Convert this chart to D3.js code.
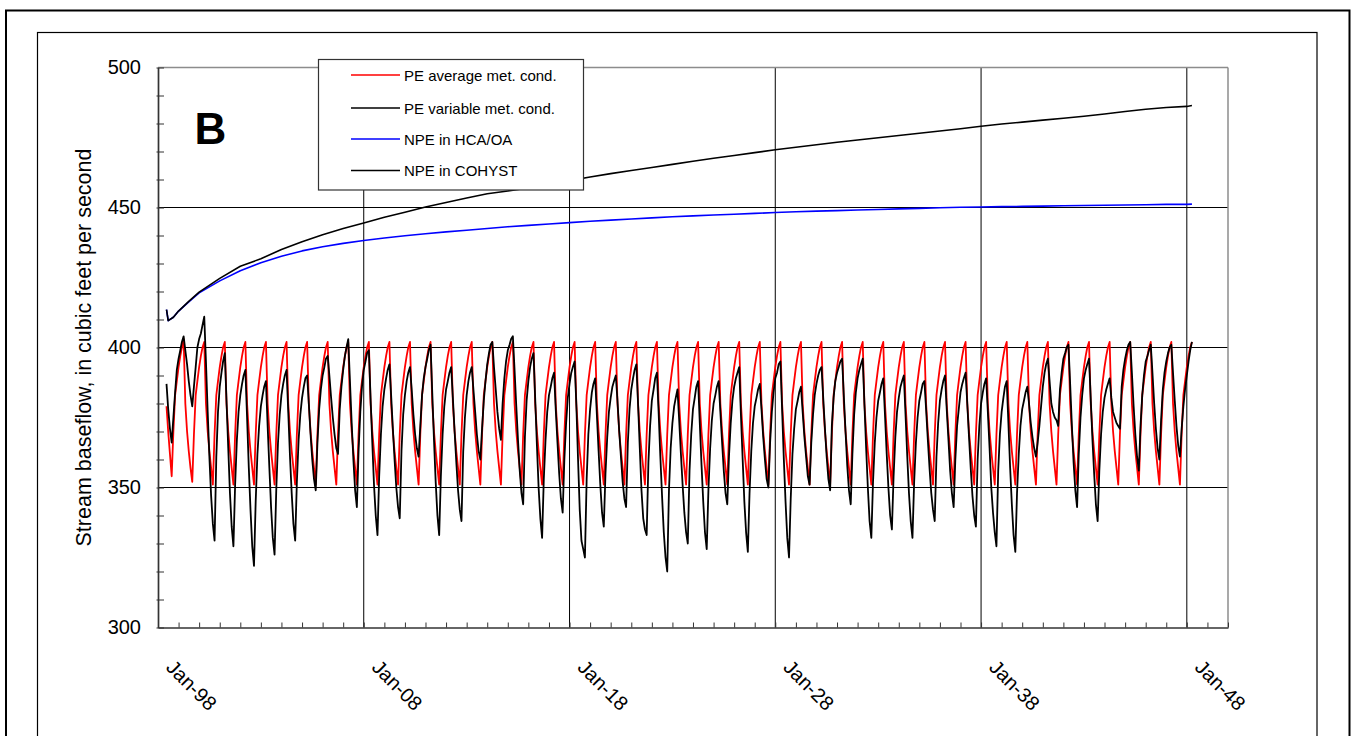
<!DOCTYPE html>
<html><head><meta charset="utf-8">
<script src="https://cdn.jsdelivr.net/npm/d3@7"></script>
<style>
body{margin:0;background:#fff;}
svg{display:block;}
text{font-family:"Liberation Sans",Arial,Helvetica,sans-serif;fill:#000;}
</style>
</head><body>
<svg id="chart" width="1352" height="736"></svg>
<script>
// ---------------- DATA ----------------
const seriesNames = ["PE average met. cond.", "PE variable met. cond.", "NPE in HCA/OA", "NPE in COHYST"];
const seriesColors = ["#ff0000", "#000000", "#0000ff", "#000000"];
const yTickValues = [300, 350, 400, 450, 500];
const yTickLabels = ["300", "350", "400", "450", "500"];
const xTickYears = [1998, 2008, 2018, 2028, 2038, 2048];
const xTickLabels = ["Jan-98", "Jan-08", "Jan-18", "Jan-28", "Jan-38", "Jan-48"];

// monthly rows (Jan..Dec) for each year 1998..2048
const years = [1998,1999,2000,2001,2002,2003,2004,2005,2006,2007,2008,2009,2010,2011,2012,2013,2014,2015,2016,2017,2018,2019,2020,2021,2022,2023,2024,2025,2026,2027,2028,2029,2030,2031,2032,2033,2034,2035,2036,2037,2038,2039,2040,2041,2042,2043,2044,2045,2046,2047,2048];

const peAverage = [
[null,null,null,null,null,379,370,362,354,370,383,388],
[393,397,400,403,380,370,363,357,352,369,383,388],
[393,397,400,402,380,370,363,357,351,369,383,388],
[393,397,400,402,380,370,363,357,351,369,383,388],
[393,397,400,402,380,370,363,357,351,369,383,388],
[393,397,400,402,380,370,363,357,351,369,383,388],
[393,397,400,402,380,370,363,357,351,369,383,388],
[393,397,400,402,380,370,363,357,351,369,383,388],
[393,397,400,402,380,370,363,357,351,369,383,388],
[393,397,400,402,380,370,363,357,351,369,383,388],
[393,397,400,402,380,370,363,357,351,369,383,388],
[393,397,400,402,380,370,363,357,351,369,383,388],
[393,397,400,402,380,370,363,357,351,369,383,388],
[393,397,400,402,380,370,363,357,351,369,383,388],
[393,397,400,402,380,370,363,357,351,369,383,388],
[393,397,400,402,380,370,363,357,351,369,383,388],
[393,397,400,402,380,370,363,357,351,369,383,388],
[393,397,400,402,380,370,363,357,351,369,383,388],
[393,397,400,402,380,370,363,357,351,369,383,388],
[393,397,400,402,380,370,363,357,351,369,383,388],
[393,397,400,402,380,370,363,357,351,369,383,388],
[393,397,400,402,380,370,363,357,351,369,383,388],
[393,397,400,402,380,370,363,357,351,369,383,388],
[393,397,400,402,380,370,363,357,351,369,383,388],
[393,397,400,402,380,370,363,357,351,369,383,388],
[393,397,400,402,380,370,363,357,351,369,383,388],
[393,397,400,402,380,370,363,357,351,369,383,388],
[393,397,400,402,380,370,363,357,351,369,383,388],
[393,397,400,402,380,370,363,357,351,369,383,388],
[393,397,400,402,380,370,363,357,351,369,383,388],
[393,397,400,402,380,370,363,357,351,369,383,388],
[393,397,400,402,380,370,363,357,351,369,383,388],
[393,397,400,402,380,370,363,357,351,369,383,388],
[393,397,400,402,380,370,363,357,351,369,383,388],
[393,397,400,402,380,370,363,357,351,369,383,388],
[393,397,400,402,380,370,363,357,351,369,383,388],
[393,397,400,402,380,370,363,357,351,369,383,388],
[393,397,400,402,380,370,363,357,351,369,383,388],
[393,397,400,402,380,370,363,357,351,369,383,388],
[393,397,400,402,380,370,363,357,351,369,383,388],
[393,397,400,402,380,370,363,357,351,369,383,388],
[393,397,400,402,380,370,363,357,351,369,383,388],
[393,397,400,402,380,370,363,357,351,369,383,388],
[393,397,400,402,380,370,363,357,351,369,383,388],
[393,397,400,402,380,370,363,357,351,369,383,388],
[393,397,400,402,380,370,363,357,351,369,383,388],
[393,397,400,402,380,370,363,357,351,369,383,388],
[393,397,400,402,380,370,363,357,351,369,383,388],
[393,397,400,402,380,370,363,357,351,369,383,388],
[393,397,400,402,380,370,363,357,351,369,383,388],
[393,397,400,402,null,null,null,null,null,null,null,null]
];

const peVariable = [
[null,null,null,null,null,387,378,371,366,375,384,392],
[396,399,402,404,399,394,388,383,379,386,393,400],
[403,405,408,411,395,377,361,347,337,331,361,377],
[386,391,395,398,381,364,348,336,329,351,367,377],
[383,387,390,392,375,357,342,329,322,345,362,372],
[379,383,386,388,372,357,343,332,326,349,366,376],
[383,387,390,392,377,361,348,337,331,352,367,376],
[382,386,389,390,380,369,360,353,349,366,378,385],
[390,393,396,397,390,382,375,369,364,362,378,386],
[392,397,400,403,388,373,360,349,343,363,377,386],
[392,395,398,399,382,366,351,340,333,354,369,379],
[385,389,392,394,383,371,360,350,343,339,363,376],
[383,388,391,393,385,376,369,364,361,372,383,389],
[393,396,399,401,384,367,352,340,333,354,369,379],
[385,388,391,393,382,370,359,349,342,338,363,375],
[383,388,391,393,385,377,369,363,360,371,381,388],
[394,398,401,402,393,385,377,371,367,380,389,395],
[399,401,403,404,392,379,367,356,348,344,368,381],
[388,393,396,398,382,365,350,339,332,353,367,377],
[383,386,389,391,378,366,355,346,341,360,373,382],
[387,391,393,395,380,360,342,331,328,325,353,369],
[378,384,387,389,376,363,351,341,336,355,368,377],
[382,386,388,390,381,370,361,352,346,343,366,378],
[385,389,392,394,380,364,349,339,335,333,359,372],
[381,385,389,391,377,361,347,334,325,320,349,364],
[373,379,382,385,374,362,351,341,334,330,356,369],
[378,382,386,388,373,358,345,334,328,349,364,374],
[380,383,386,388,377,366,356,348,344,361,373,381],
[386,389,391,393,376,360,345,334,327,348,363,373],
[379,382,385,387,378,368,360,353,350,366,377,384],
[389,391,394,395,378,360,345,332,325,346,362,371],
[378,381,384,386,377,368,361,354,351,366,376,383],
[387,390,392,393,382,371,361,353,349,372,382,388],
[391,393,395,396,383,370,358,349,344,362,376,384],
[389,392,394,396,380,364,350,338,332,352,366,375],
[381,384,387,389,376,362,350,340,335,354,368,377],
[382,386,388,390,376,361,348,338,332,352,366,375],
[381,384,387,388,378,367,357,348,342,338,361,373],
[381,385,388,390,378,367,356,348,343,360,372,378],
[384,387,389,391,380,368,357,347,340,336,360,372],
[380,384,387,389,377,364,350,341,334,329,356,369],
[377,382,386,388,373,357,344,333,327,348,362,372],
[378,381,384,386,380,373,368,364,361,366,372,379],
[386,391,394,396,388,380,377,375,374,372,385,391],
[396,398,400,401,387,372,359,349,343,362,375,383],
[389,392,394,396,382,367,355,344,338,356,369,377],
[382,385,387,389,382,377,375,373,372,371,386,392],
[396,399,401,402,391,379,369,361,356,372,383,390],
[395,397,399,401,391,380,371,364,360,374,385,391],
[395,398,400,401,391,381,372,365,361,371,379,385],
[390,395,399,402,null,null,null,null,null,null,null,null]
];

const npeDates = ["1998-06","1998-07","1998-10","1999-01","1999-07","2000-01","2001-01","2002-01","2003-01","2004-01","2005-01","2006-01","2007-01","2008-01","2009-01","2010-01","2011-01","2012-01","2013-01","2014-01","2015-01","2016-01","2017-01","2018-01","2019-01","2020-01","2021-01","2022-01","2023-01","2024-01","2025-01","2026-01","2027-01","2028-01","2029-01","2030-01","2031-01","2032-01","2033-01","2034-01","2035-01","2036-01","2037-01","2038-01","2039-01","2040-01","2041-01","2042-01","2043-01","2044-01","2045-01","2046-01","2047-01","2048-01","2048-04"];
const npeHcaOa = [413.5,409.6,410.8,413.0,416.3,419.5,423.8,427.4,430.3,432.6,434.5,436.0,437.2,438.2,439.1,439.9,440.6,441.3,441.9,442.5,443.1,443.6,444.1,444.6,445.1,445.5,445.9,446.3,446.7,447.0,447.3,447.6,447.9,448.2,448.5,448.7,448.9,449.1,449.3,449.5,449.7,449.9,450.1,450.2,450.3,450.4,450.5,450.6,450.7,450.8,450.9,451.0,451.1,451.1,451.2];
const npeCohyst = [413.5,409.6,410.8,413.0,416.5,419.8,424.7,429.0,431.7,435.0,437.8,440.3,442.5,444.5,446.5,448.3,450.2,451.8,453.4,454.9,455.9,457.0,458.3,459.6,460.9,462.1,463.2,464.3,465.4,466.5,467.6,468.6,469.6,470.6,471.5,472.4,473.3,474.1,474.9,475.7,476.5,477.3,478.1,479.0,479.8,480.5,481.2,481.9,482.6,483.4,484.3,485.1,485.7,486.1,486.4];

// ---------------- BUILD ----------------
function monthlySeries(rows) {
  const out = [];
  rows.forEach((row, i) => row.forEach((v, m) => {
    if (v !== null) out.push({date: new Date(Date.UTC(years[i], m, 1)), value: v});
  }));
  return out;
}
const parseYM = d3.utcParse("%Y-%m");
const seriesData = [
  monthlySeries(peAverage),
  monthlySeries(peVariable),
  npeDates.map((d, i) => ({date: parseYM(d), value: npeHcaOa[i]})),
  npeDates.map((d, i) => ({date: parseYM(d), value: npeCohyst[i]}))
];

const svg = d3.select("#chart");
const L = 158, R = 1228, T = 67.5, B = 627.5;
const x = d3.scaleUtc().domain([new Date(Date.UTC(1998,0,1)), new Date(Date.UTC(2050,0,1))]).range([L, R]);
const y = d3.scaleLinear().domain([300, 500]).range([B, T]);

// frames
svg.append("rect").attr("x", 6).attr("y", 10.5).attr("width", 1343.5).attr("height", 800)
  .attr("fill", "none").attr("stroke", "#000").attr("stroke-width", 2);
svg.append("rect").attr("x", 37.5).attr("y", 32.5).attr("width", 1279.5).attr("height", 800)
  .attr("fill", "none").attr("stroke", "#000").attr("stroke-width", 1.2);

// gridlines
svg.append("g").selectAll("line").data([350, 400, 450]).join("line")
  .attr("x1", L).attr("x2", R).attr("y1", d => y(d)).attr("y2", d => y(d))
  .attr("stroke", "#000").attr("stroke-width", 1);
svg.append("g").selectAll("line").data(xTickYears.slice(1)).join("line")
  .attr("x1", d => x(new Date(Date.UTC(d,0,1)))).attr("x2", d => x(new Date(Date.UTC(d,0,1))))
  .attr("y1", T).attr("y2", B).attr("stroke", "#000").attr("stroke-width", 1);

// plot border (top/right, gray)
svg.append("line").attr("x1", L).attr("x2", R).attr("y1", T).attr("y2", T).attr("stroke", "#8c8c8c").attr("stroke-width", 1.5);
svg.append("line").attr("x1", R).attr("x2", R).attr("y1", T).attr("y2", B).attr("stroke", "#8c8c8c").attr("stroke-width", 1.5);

// series
const line = d3.line().x(d => x(d.date)).y(d => y(d.value));
const widths = [1.8, 1.8, 1.6, 1.6];
seriesData.forEach((data, i) => {
  svg.append("path").datum(data).attr("d", line).attr("fill", "none")
    .attr("stroke", seriesColors[i]).attr("stroke-width", widths[i]).attr("stroke-linejoin", "round");
});

// y axis
const yAxis = d3.axisLeft(y).tickValues(d3.range(300, 501, 10)).tickSizeInner(-6).tickSizeOuter(0).tickPadding(17)
  .tickFormat(d => { const k = yTickValues.indexOf(d); return k >= 0 ? yTickLabels[k] : ""; });
const gy = svg.append("g").attr("transform", `translate(${L},0)`).call(yAxis);
gy.select(".domain").attr("stroke", "#333").attr("stroke-width", 1.7);
gy.selectAll(".tick line").attr("stroke", "#333").attr("stroke-width", 1).attr("x1", -1.5);
gy.selectAll("text").style("font-size", "20px").attr("fill", "#000");

// x axis: yearly inner ticks
const xAxis = d3.axisBottom(x).ticks(d3.utcYear.every(1)).tickSizeInner(-5).tickSizeOuter(0).tickFormat("");
const gx = svg.append("g").attr("transform", `translate(0,${B})`).call(xAxis);
gx.select(".domain").attr("stroke", "#333").attr("stroke-width", 1.7);
gx.selectAll(".tick line").attr("stroke", "#333").attr("stroke-width", 1);

// x labels (rotated)
const xLab = d3.axisBottom(x).tickValues(xTickYears.map(v => new Date(Date.UTC(v,0,1))))
  .tickFormat((d, i) => xTickLabels[i]).tickSize(0).tickPadding(0);
const gxl = svg.append("g").attr("transform", `translate(0,${B})`).call(xLab);
gxl.select(".domain").remove();
gxl.selectAll("text").attr("y", 0).attr("dy", 0).attr("text-anchor", "start")
  .attr("transform", "translate(6.5,41) rotate(45)").style("font-size", "20px").attr("fill", "#000");

// y title
svg.append("text").attr("transform", `translate(91,${(T + B) / 2}) rotate(-90)`)
  .attr("text-anchor", "middle").style("font-size", "21.5px")
  .text("Stream baseflow, in cubic feet per second");

// panel letter
svg.append("text").attr("x", 194.5).attr("y", 144).style("font-size", "44px").style("font-weight", "bold").text("B");

// legend
const lg = svg.append("g");
lg.append("rect").attr("x", 318.5).attr("y", 59.5).attr("width", 265).attr("height", 130.5)
  .attr("fill", "#fff").attr("stroke", "#333").attr("stroke-width", 1.2);
const legY = [75, 108, 139, 170.5];
seriesNames.forEach((name, i) => {
  lg.append("line").attr("x1", 351).attr("x2", 400).attr("y1", legY[i]).attr("y2", legY[i])
    .attr("stroke", seriesColors[i]).attr("stroke-width", 1.6);
  lg.append("text").attr("x", 404).attr("y", legY[i] + 5.5).style("font-size", "15px").text(name);
});
</script>
</body></html>
